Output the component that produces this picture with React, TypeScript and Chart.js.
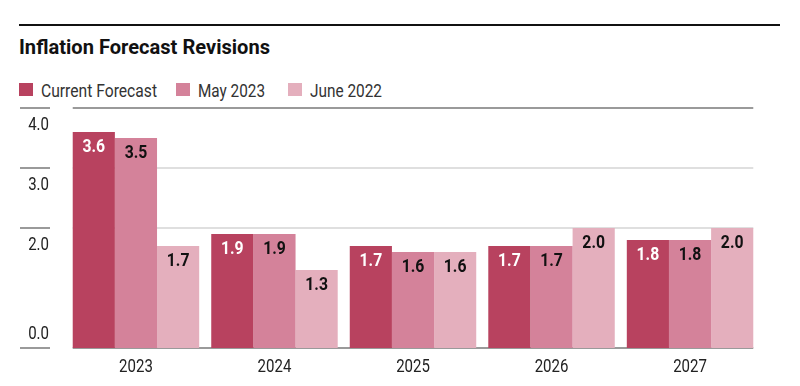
import React, { useEffect, useRef } from "react";
import { Chart, registerables } from "chart.js";

Chart.register(...registerables);

const categories = ["2023", "2024", "2025", "2026", "2027"];
const currentForecast = [3.6, 1.9, 1.7, 1.7, 1.8];
const may2023 = [3.5, 1.9, 1.6, 1.7, 1.8];
const june2022 = [1.7, 1.3, 1.6, 2.0, 2.0];
const seriesNames = ["Current Forecast", "May 2023", "June 2022"];
const seriesColors = ["#B8425F", "#D4829A", "#E4AFBD"];
const labelColors = ["#ffffff", "#111111", "#111111"];
const yTicks = [0, 2, 3, 4];
const titleText = "Inflation Forecast Revisions";

const FONT = "Roboto, 'Liberation Sans', sans-serif";
const CONDENSE = 0.79;
const CONDENSE_BOLD = 0.83;

function drawCondensed(ctx: any, text: string, x: number, y: number, k: number) {
  ctx.save();
  ctx.translate(x, y);
  ctx.scale(k, 1);
  ctx.fillText(text, 0, 0);
  ctx.restore();
}

const overlayPlugin = {
  id: "overlay",
  beforeDatasetsDraw(chart: any) {
    const ctx = chart.ctx;
    const y = chart.scales.y;
    const x = chart.scales.x;
    const meta0 = chart.getDatasetMeta(0);
    const metaN = chart.getDatasetMeta(chart.data.datasets.length - 1);
    const first = meta0.data[0];
    const last = metaN.data[metaN.data.length - 1];
    const x0 = first.x - first.width / 2;
    const x1 = last.x + last.width / 2;
    ctx.save();
    yTicks.forEach((t) => {
      const py = Math.round(y.getPixelForValue(t));
      const strong = t === 0 || t === 4;
      ctx.strokeStyle = strong ? "#9a9a9a" : "#d4d4d4";
      ctx.lineWidth = strong ? 2 : 1.5;
      ctx.beginPath();
      ctx.moveTo(x0, py);
      ctx.lineTo(x1, py);
      ctx.stroke();
      ctx.strokeStyle = "#9a9a9a";
      ctx.lineWidth = 2;
      ctx.beginPath();
      ctx.moveTo(20, py);
      ctx.lineTo(50, py);
      ctx.stroke();
      ctx.fillStyle = "#222";
      ctx.font = "19px " + FONT;
      ctx.textAlign = "right";
      ctx.textBaseline = "middle";
      const ly = t === 0 ? py - 14 : py + 17;
      drawCondensed(ctx, t.toFixed(1), 49, ly, CONDENSE);
    });
    // category labels from the x scale
    ctx.fillStyle = "#222";
    ctx.font = "19px " + FONT;
    ctx.textAlign = "center";
    ctx.textBaseline = "middle";
    categories.forEach((c, i) => {
      drawCondensed(ctx, x.getLabelForValue(i), x.getPixelForValue(i), y.getPixelForValue(0) + 19, CONDENSE);
    });
    ctx.restore();
  },
  afterDatasetsDraw(chart: any) {
    const ctx = chart.ctx;
    ctx.save();
    ctx.font = "bold 19px " + FONT;
    ctx.textAlign = "center";
    ctx.textBaseline = "middle";
    chart.data.datasets.forEach((ds: any, i: number) => {
      const meta = chart.getDatasetMeta(i);
      meta.data.forEach((bar: any, j: number) => {
        ctx.fillStyle = labelColors[i];
        drawCondensed(ctx, Number(ds.data[j]).toFixed(1), bar.x, bar.y + 15, CONDENSE_BOLD);
      });
    });
    ctx.restore();
  },
};

function fitScale(text: string, font: string, target: number) {
  if (typeof document === "undefined") return 0.8;
  const c = document.createElement("canvas").getContext("2d");
  if (!c) return 0.8;
  c.font = font;
  const w = c.measureText(text).width;
  return w > 0 ? target / w : 0.8;
}

export default function App() {
  const ref = useRef<HTMLCanvasElement | null>(null);
  useEffect(() => {
    if (!ref.current) return;
    const chart = new Chart(ref.current, {
      type: "bar",
      data: {
        labels: categories,
        datasets: [currentForecast, may2023, june2022].map((d, i) => ({
          label: seriesNames[i],
          data: d,
          backgroundColor: seriesColors[i],
          borderWidth: 0,
          barPercentage: 1,
          categoryPercentage: 0.913,
        })),
      },
      options: {
        animation: false,
        responsive: false,
        maintainAspectRatio: false,
        layout: { padding: { left: 66.7, right: 40.7, top: 108, bottom: 38 } },
        plugins: { legend: { display: false }, tooltip: { enabled: false } },
        scales: {
          x: {
            display: false,
          },
          y: {
            display: false,
            min: 0,
            max: 4,
          },
        },
      },
      plugins: [overlayPlugin],
    });
    return () => chart.destroy();
  }, []);

  const legendTargets = [116, 67, 72];
  const legendSq = [19, 176, 288];
  const legendItem = (i: number) => {
    const k = fitScale(seriesNames[i], "19px Roboto", legendTargets[i]);
    return (
      <div key={i}>
        <div style={{ position: "absolute", left: legendSq[i], top: 83, width: 14, height: 13, background: seriesColors[i] }} />
        <div
          style={{
            position: "absolute",
            left: legendSq[i] + 22,
            top: 80.5,
            fontFamily: FONT,
            fontSize: 19,
            lineHeight: "19px",
            color: "#333",
            whiteSpace: "nowrap",
            transform: `scaleX(${k})`,
            transformOrigin: "0 0",
          }}
        >
          {seriesNames[i]}
        </div>
      </div>
    );
  };

  const tk = fitScale(titleText, "bold 21px Roboto", 251);

  return (
    <div style={{ position: "fixed", left: 0, top: 0, width: 800, height: 386, background: "#fff", overflow: "hidden" }}>
      <div style={{ position: "absolute", left: 19, top: 24, width: 761, height: 2, background: "#111" }} />
      <div
        style={{
          position: "absolute",
          left: 19,
          top: 37.3,
          fontFamily: FONT,
          fontWeight: "bold",
          fontSize: 21,
          lineHeight: "21px",
          color: "#111",
          whiteSpace: "nowrap",
          transform: `scaleX(${tk})`,
          transformOrigin: "0 0",
        }}
      >
        {titleText}
      </div>
      {legendItem(0)}
      {legendItem(1)}
      {legendItem(2)}
      <canvas ref={ref} width={800} height={386} style={{ position: "absolute", left: 0, top: 0 }} />
    </div>
  );
}
